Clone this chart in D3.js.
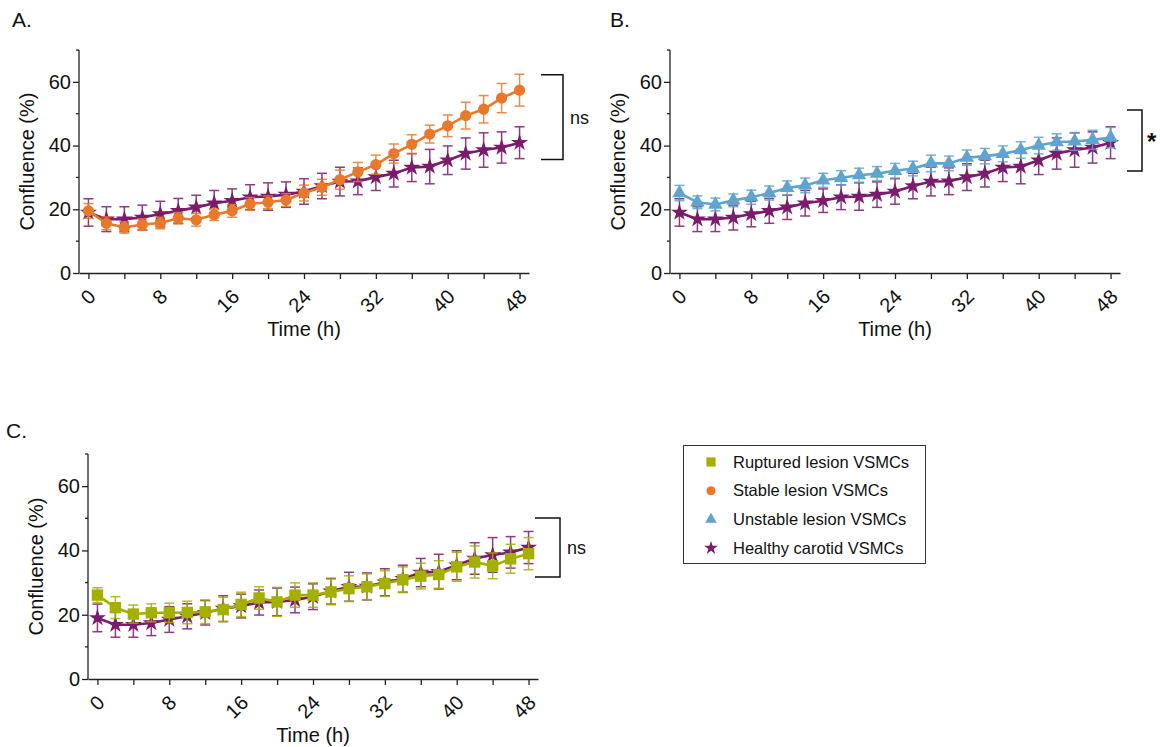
<!DOCTYPE html>
<html>
<head>
<meta charset="utf-8">
<script src="https://cdn.jsdelivr.net/npm/d3@7"></script>
<style>
  body { margin: 0; background: #fff; }
  svg text { font-family: "Liberation Sans", Arial, Helvetica, sans-serif; fill: #111; }
</style>
</head>
<body>
<div id="chart"></div>
<script>
// time points (h)
var time = [0, 2, 4, 6, 8, 10, 12, 14, 16, 18, 20, 22, 24, 26, 28, 30, 32, 34, 36, 38, 40, 42, 44, 46, 48];

// healthy carotid VSMCs (same in every panel)
var healthy_mean = [19.0, 16.9, 16.9, 17.4, 18.5, 19.5, 20.6, 21.9, 22.7, 23.8, 24.0, 24.6, 25.6, 27.3, 28.7, 28.8, 30.1, 31.2, 33.1, 33.4, 35.4, 37.5, 38.6, 39.4, 40.9];
var healthy_sem = [4.3, 3.9, 3.9, 3.9, 4.0, 3.9, 3.8, 4.0, 3.7, 3.9, 4.3, 4.0, 4.0, 4.0, 4.5, 4.2, 4.2, 4.2, 4.4, 5.4, 4.5, 4.9, 5.4, 4.9, 5.0];

// stable lesion VSMCs
var stable_mean = [19.5, 15.6, 14.3, 15.2, 15.7, 17.2, 16.7, 18.3, 19.5, 21.7, 22.2, 22.9, 25.1, 26.9, 29.3, 31.7, 34.0, 37.5, 40.4, 43.6, 46.2, 49.4, 51.4, 54.9, 57.4];
var stable_sem = [2.3, 2.0, 1.8, 1.8, 1.8, 1.8, 2.0, 1.8, 2.0, 2.0, 2.0, 2.0, 2.5, 2.5, 3.0, 3.0, 3.0, 3.0, 3.0, 2.8, 3.4, 4.2, 4.3, 4.6, 5.0];

// unstable lesion VSMCs
var unstable_mean = [25.1, 22.2, 21.5, 22.8, 23.8, 25.1, 26.7, 27.5, 29.1, 29.9, 30.7, 31.2, 32.1, 32.8, 34.4, 34.4, 36.2, 36.7, 37.4, 38.6, 40.0, 41.1, 41.3, 41.8, 42.5];
var unstable_sem = [2.4, 2.0, 2.0, 2.0, 2.2, 2.2, 2.2, 2.3, 2.2, 2.2, 2.2, 2.2, 2.3, 2.3, 2.6, 2.3, 2.4, 2.4, 2.5, 2.6, 2.6, 2.6, 2.8, 3.0, 3.2];

// ruptured lesion VSMCs
var ruptured_mean = [26.1, 22.2, 20.2, 20.6, 20.6, 20.7, 20.9, 21.6, 23.2, 25.2, 24.0, 26.1, 26.1, 27.1, 28.1, 28.7, 29.7, 30.9, 32.0, 32.5, 34.9, 36.4, 35.2, 37.4, 39.0];
var ruptured_sem = [2.3, 3.4, 2.8, 2.8, 3.0, 3.5, 3.7, 3.8, 3.8, 3.5, 4.5, 3.8, 3.8, 4.0, 4.0, 4.0, 4.0, 4.0, 4.0, 4.3, 4.5, 5.0, 4.0, 4.5, 5.0];

// axis ticks
var x_ticks = [0, 4, 8, 12, 16, 20, 24, 28, 32, 36, 40, 44, 48];
var x_tick_labels = [0, 8, 16, 24, 32, 40, 48];
var y_major = [0, 20, 40, 60];
var y_minor = [10, 30, 50, 70];

var legend_labels = ['Ruptured lesion VSMCs', 'Stable lesion VSMCs', 'Unstable lesion VSMCs', 'Healthy carotid VSMCs'];

var settings = {
  width: 1160,
  height: 747,
  axis_color: '#222',
  tick_font: 20,
  label_font: 20,
  title_font: 21,
  legend_font: 16.5,
  colors: {
    ruptured: '#a4b000',
    stable: '#e8792b',
    unstable: '#5fa3cf',
    healthy: '#7a1b6b'
  }
};

var series = {
  healthy: { mean: healthy_mean, sem: healthy_sem, symbol: d3.symbolStar, size: 90 },
  stable: { mean: stable_mean, sem: stable_sem, symbol: d3.symbolCircle, size: 100 },
  unstable: { mean: unstable_mean, sem: unstable_sem, symbol: d3.symbolTriangle, size: 90 },
  ruptured: { mean: ruptured_mean, sem: ruptured_sem, symbol: d3.symbolSquare, size: 130 }
};

var panels = [
  { title: 'A.', tx: 12, ty: 27, left: 79, top: 50, bottom: 273, other: 'stable',
    bracket: { x1: 541, x2: 563, v1: 62.2, v2: 35.6, label: 'ns', bold: false } },
  { title: 'B.', tx: 610, ty: 27, left: 670, top: 50, bottom: 273, other: 'unstable',
    bracket: { x1: 1127, x2: 1142, v1: 51.2, v2: 32.0, label: '*', bold: true } },
  { title: 'C.', tx: 6, ty: 438, left: 88, top: 454, bottom: 679, other: 'ruptured',
    bracket: { x1: 535, x2: 560, v1: 50.1, v2: 31.7, label: 'ns', bold: false } }
];

var svg = d3.select('#chart').append('svg')
  .attr('width', settings.width)
  .attr('height', settings.height);

panels.forEach(draw_panel);
draw_legend();

function draw_panel(p) {
  var g = svg.append('g');

  var x = d3.scaleLinear().domain([-1.05, 49.05]).range([p.left, p.left + 450]);
  var y = d3.scaleLinear().domain([0, 70]).range([p.bottom, p.top]);

  g.append('text')
    .attr('x', p.tx).attr('y', p.ty)
    .style('font-size', settings.title_font + 'px')
    .text(p.title);

  // y axis
  var yAxis = g.append('g').attr('transform', 'translate(' + p.left + ',0)')
    .call(d3.axisLeft(y).tickValues(y_major).tickSize(6).tickPadding(2));
  yAxis.selectAll('.tick')
    .data(y_minor, function(d) { return d; })
    .enter().append('line')
    .attr('class', 'minor')
    .attr('x1', -3).attr('x2', 0)
    .attr('y1', function(d) { return y(d); })
    .attr('y2', function(d) { return y(d); });
  yAxis.selectAll('path.domain').attr('d', 'M0,' + y(70) + 'V' + (p.bottom + 0.5));
  yAxis.selectAll('line').attr('stroke', settings.axis_color).attr('stroke-width', 1.3);
  yAxis.selectAll('path').attr('stroke', settings.axis_color).attr('stroke-width', 1.3);
  yAxis.selectAll('text')
    .style('font-size', settings.tick_font + 'px')
    .style('font-family', '"Liberation Sans", Arial, sans-serif')
    .attr('fill', '#111');

  // x axis
  var xAxis = g.append('g').attr('transform', 'translate(0,' + p.bottom + ')')
    .call(d3.axisBottom(x).tickValues(x_ticks).tickSize(6).tickSizeOuter(0)
      .tickFormat(function(d) { return x_tick_labels.indexOf(d) >= 0 ? d : ''; }));
  xAxis.selectAll('line').attr('stroke', settings.axis_color).attr('stroke-width', 1.3);
  xAxis.selectAll('path').attr('stroke', settings.axis_color).attr('stroke-width', 1.3);
  xAxis.selectAll('text')
    .style('font-size', settings.tick_font + 'px')
    .style('font-family', '"Liberation Sans", Arial, sans-serif')
    .attr('fill', '#111')
    .style('text-anchor', 'end')
    .attr('dy', '0.35em')
    .attr('y', 0)
    .attr('transform', 'translate(3,20) rotate(-45)');

  // axis titles
  g.append('text')
    .attr('transform', 'translate(' + (p.left - 52) + ',' + ((p.top + p.bottom) / 2) + ') rotate(-90)')
    .style('text-anchor', 'middle')
    .style('font-size', settings.label_font + 'px')
    .attr('dy', '0.35em')
    .text('Confluence (%)');

  g.append('text')
    .attr('x', x(24)).attr('y', p.bottom + 63)
    .style('text-anchor', 'middle')
    .style('font-size', settings.label_font + 'px')
    .text('Time (h)');

  draw_series(g, x, y, series.healthy, settings.colors.healthy);
  draw_series(g, x, y, series[p.other], settings.colors[p.other]);

  // significance bracket
  var b = p.bracket;
  g.append('path')
    .attr('d', 'M' + b.x1 + ',' + y(b.v1) + 'H' + b.x2 + 'V' + y(b.v2) + 'H' + b.x1)
    .attr('fill', 'none')
    .attr('stroke', '#111')
    .attr('stroke-width', 1.5);
  g.append('text')
    .attr('x', b.x2 + (b.bold ? 5 : 7))
    .attr('y', (y(b.v1) + y(b.v2)) / 2 + (b.bold ? 10 : 0))
    .attr('dy', b.bold ? 0 : '0.35em')
    .style('font-size', (b.bold ? 24 : 18) + 'px')
    .style('font-weight', b.bold ? 'bold' : 'normal')
    .text(b.label);
}

function draw_series(g, x, y, s, color) {
  var pts = time.map(function(t, i) { return { t: t, m: s.mean[i], e: s.sem[i] }; });
  var sg = g.append('g');

  var err = sg.selectAll('g.err').data(pts).enter().append('g')
    .attr('class', 'err')
    .attr('stroke', color)
    .attr('stroke-width', 1.5)
    .attr('opacity', 0.85);
  err.append('line')
    .attr('x1', function(d) { return x(d.t); })
    .attr('x2', function(d) { return x(d.t); })
    .attr('y1', function(d) { return y(d.m - d.e); })
    .attr('y2', function(d) { return y(d.m + d.e); });
  [-1, 1].forEach(function(sign) {
    err.append('line')
      .attr('x1', function(d) { return x(d.t) - 5; })
      .attr('x2', function(d) { return x(d.t) + 5; })
      .attr('y1', function(d) { return y(d.m + sign * d.e); })
      .attr('y2', function(d) { return y(d.m + sign * d.e); });
  });

  var line = d3.line()
    .x(function(d) { return x(d.t); })
    .y(function(d) { return y(d.m); });
  sg.append('path')
    .datum(pts)
    .attr('d', line)
    .attr('fill', 'none')
    .attr('stroke', color)
    .attr('stroke-width', 2.6);

  sg.selectAll('path.sym').data(pts).enter().append('path')
    .attr('class', 'sym')
    .attr('transform', function(d) { return 'translate(' + x(d.t) + ',' + y(d.m) + ')'; })
    .attr('d', d3.symbol().type(s.symbol).size(s.size))
    .attr('fill', color);
}

function draw_legend() {
  var keys = ['ruptured', 'stable', 'unstable', 'healthy'];
  var lg = svg.append('g');
  lg.append('rect')
    .attr('x', 683.5).attr('y', 445.5)
    .attr('width', 242).attr('height', 118)
    .attr('fill', 'none')
    .attr('stroke', '#333')
    .attr('stroke-width', 1);

  var row = lg.selectAll('g.row').data(keys).enter().append('g')
    .attr('class', 'row')
    .attr('transform', function(d, i) { return 'translate(711,' + (462 + i * 28.7) + ')'; });
  row.append('path')
    .attr('d', function(d) { return d3.symbol().type(series[d].symbol).size(series[d].size * 0.65)(); })
    .attr('fill', function(d) { return settings.colors[d]; });
  row.append('text')
    .attr('x', 22)
    .attr('dy', '0.35em')
    .style('font-size', settings.legend_font + 'px')
    .text(function(d, i) { return legend_labels[i]; });
}
</script>
</body>
</html>
